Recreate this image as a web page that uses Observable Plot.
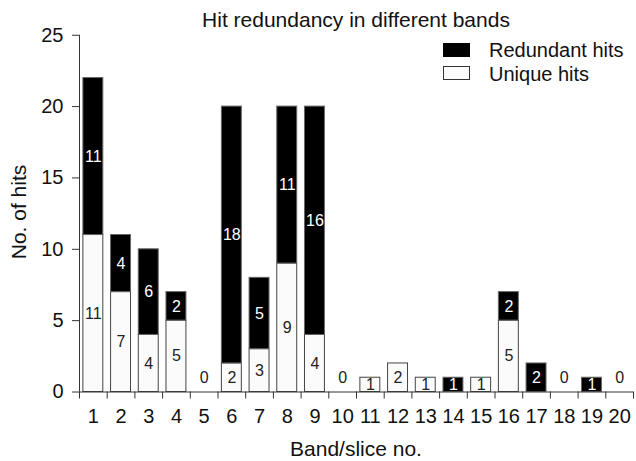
<!DOCTYPE html>
<html><head><meta charset="utf-8">
<script src="https://cdn.jsdelivr.net/npm/d3@7"></script>
<script src="https://cdn.jsdelivr.net/npm/@observablehq/plot@0.6"></script>
<style>
body{margin:0;background:#fff;font-family:"Liberation Sans",Arial,sans-serif;}
#wrap{position:relative;width:636px;height:461px;overflow:hidden;}
#wrap svg{position:absolute;left:0;top:0;}
.t{position:absolute;white-space:nowrap;color:#111;line-height:1;}
.sw{position:absolute;box-sizing:border-box;}
</style></head><body>
<div id="wrap"></div>
<script>
const bands = [1,2,3,4,5,6,7,8,9,10,11,12,13,14,15,16,17,18,19,20];
const uniqueHits = [11,7,4,5,0,2,3,9,4,0,1,2,1,0,1,5,0,0,0,0];
const redundantHits = [11,4,6,2,0,18,5,11,16,0,0,0,0,1,0,2,2,0,1,0];
const yTicks = [0,5,10,15,20,25];
const seriesNames = ["Redundant hits","Unique hits"];
const titleText = "Hit redundancy in different bands";
const xLabel = "Band/slice no.";
const yLabel = "No. of hits";

const rows = bands.map((b,i)=>({band:b, unique:uniqueHits[i], redundant:redundantHits[i], total:uniqueHits[i]+redundantHits[i]}));
const half = 0.36;
const boundaries = [bands[0]-0.5, ...bands.map(b=>b+0.5)];
const yMax = yTicks[yTicks.length-1];

const whiteLabels = rows.filter(d=>d.unique>0).map(d=>({band:d.band, pos:d.unique/2, label:String(d.unique)}));
const zeroLabels = rows.filter(d=>d.total===0).map(d=>({band:d.band, pos:1, label:"0"}));
const blackLabels = rows.filter(d=>d.redundant>0).map(d=>({band:d.band, pos:d.unique+d.redundant/2, label:String(d.redundant)}));

const chart = Plot.plot({
  width:636, height:461,
  marginTop:34.75, marginBottom:69.5, marginLeft:79, marginRight:3,
  style:{fontFamily:"'Liberation Sans', Arial, sans-serif", fontSize:"20px", color:"#111", background:"transparent", overflow:"visible"},
  x:{type:"linear", domain:[boundaries[0], boundaries[boundaries.length-1]]},
  y:{domain:[0,yMax]},
  marks:[
    Plot.rect(rows.filter(d=>d.unique>0), {x1:d=>d.band-half, x2:d=>d.band+half, y1:0, y2:"unique", fill:"#fbfbfb", stroke:"#444", strokeWidth:1}),
    Plot.rect(rows.filter(d=>d.redundant>0), {x1:d=>d.band-half, x2:d=>d.band+half, y1:"unique", y2:"total", fill:"#000", stroke:"#666", strokeWidth:1}),
    Plot.text(whiteLabels.concat(zeroLabels), {x:"band", y:"pos", text:"label", fill:"#222", fontSize:16}),
    Plot.text(blackLabels, {x:"band", y:"pos", text:"label", fill:"#fff", fontSize:16}),
    Plot.ruleY([0], {stroke:"#333"}),
    Plot.ruleX([boundaries[0]], {y1:0, y2:yMax, stroke:"#333"}),
    Plot.axisY({ticks:yTicks, tickSize:7, tickPadding:9, label:null, fontSize:20, stroke:"#333"}),
    Plot.axisX({ticks:boundaries, tickSize:7, tickFormat:()=>"", label:null, stroke:"#333"}),
    Plot.axisX({ticks:bands, tickSize:0, tickPadding:17, label:null, fontSize:20})
  ]
});
const wrap = document.getElementById("wrap");
wrap.appendChild(chart);

function addText(txt, css){const d=document.createElement("div");d.className="t";d.textContent=txt;Object.assign(d.style,css);wrap.appendChild(d);return d;}
addText(titleText,{left:"356px",top:"9px",fontSize:"21px",transform:"translateX(-50%)"});
addText(xLabel,{left:"356px",top:"438px",fontSize:"21px",transform:"translateX(-50%)"});
addText(yLabel,{left:"17.7px",top:"212px",fontSize:"21px",transform:"translate(-50%,-50%) rotate(-90deg)"});

const swStyles=[{left:"443px",top:"43px",width:"27px",height:"14px",background:"#000"},
                {left:"443px",top:"66px",width:"27px",height:"14px",background:"#fbfbfb",border:"1px solid #333"}];
seriesNames.forEach((s,i)=>{
  const sw=document.createElement("div");sw.className="sw";Object.assign(sw.style,swStyles[i]);wrap.appendChild(sw);
  addText(s,{left:"489px",top:(40.4+i*24)+"px",fontSize:"20px"});
});
</script>
</body></html>
